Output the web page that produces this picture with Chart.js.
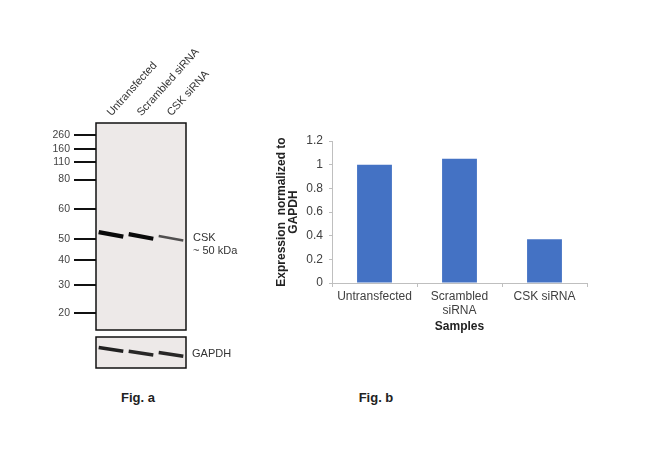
<!DOCTYPE html>
<html>
<head>
<meta charset="utf-8">
<script src="https://cdn.jsdelivr.net/npm/chart.js@4.4.1/dist/chart.umd.min.js"></script>
<style>
    body { margin: 0; background: #fff; width: 650px; height: 454px; position: relative; overflow: hidden; font-family: "Liberation Sans", Arial, sans-serif; }
    .box { position: absolute; }
    .lbl { position: absolute; font-size: 11px; line-height: 11px; color: #333; white-space: nowrap; }
    .fig { position: absolute; font-size: 13px; line-height: 13px; font-weight: bold; color: #222; width: 80px; text-align: center; }
</style>
</head>
<body>

<div class="box" style="left:30px; top:40px; width:200px; height:292px;"><canvas id="blotChart"></canvas></div>
<div class="box" style="left:30px; top:332px; width:200px; height:40px;"><canvas id="gapdhChart"></canvas></div>
<div class="box" style="left:270px; top:125px; width:330px; height:225px;"><canvas id="barChart"></canvas></div>

<div class="lbl" style="left:193px; top:232px;">CSK</div>
<div class="lbl" style="left:193px; top:245px;">~ 50 kDa</div>
<div class="lbl" style="left:192px; top:348px;">GAPDH</div>
<div class="fig" style="left:98px; top:391px;">Fig. a</div>
<div class="fig" style="left:336px; top:391px;">Fig. b</div>

<script>
// Fig. b values
var sampleLabels = ['Untransfected', ['Scrambled', 'siRNA'], 'CSK siRNA'];
var expressionValues = [1.0, 1.05, 0.37];

// Fig. a blot: lanes, marker ladder (kDa + relative mobility), bands
var laneNames = ['Untransfected', 'Scrambled siRNA', 'CSK siRNA'];
var laneCenters = [0.5, 1.5, 2.5];
var markerKDa = [260, 160, 110, 80, 60, 50, 40, 30, 20];
var markerMobility = [0.057, 0.126, 0.189, 0.273, 0.416, 0.560, 0.661, 0.782, 0.916];
var cskMobility = [0.538, 0.548, 0.557];
var cskIntensity = [1.0, 0.95, 0.4];
var gapdhMobility = [0.40, 0.52, 0.56];
var gapdhIntensity = [0.75, 0.7, 0.7];

var FONT = '"Liberation Sans", Arial, sans-serif';
Chart.defaults.font.family = FONT;
Chart.defaults.animation = false;

// membrane background + frame
var membrane = {
    id: 'membrane',
    beforeDatasetsDraw: function (chart) {
        var a = chart.chartArea, ctx = chart.ctx;
        ctx.save();
        ctx.fillStyle = '#ede9e8';
        ctx.fillRect(a.left, a.top, a.right - a.left, a.bottom - a.top);
        ctx.restore();
    },
    afterDraw: function (chart) {
        var a = chart.chartArea, ctx = chart.ctx;
        ctx.save();
        ctx.strokeStyle = '#111';
        ctx.lineWidth = 1.5;
        ctx.strokeRect(a.left, a.top, a.right - a.left, a.bottom - a.top);
        ctx.restore();
    }
};

function bandSets(mob, inten, tilt) {
    return mob.map(function (m, i) {
        var k = inten[i];
        return {
            data: [{x: laneCenters[i] - 0.41, y: m - tilt}, {x: laneCenters[i] + 0.41, y: m + tilt}],
            borderColor: 'rgba(10,10,10,' + Math.min(1, 0.45 + 0.6 * k) + ')',
            borderWidth: 1.2 + 3.2 * k,
            pointRadius: 0,
            tension: 0
        };
    });
}

var ctxBlot = document.getElementById('blotChart').getContext('2d');
var blotChart = new Chart(ctxBlot, {
    type: 'line',
    data: { datasets: bandSets(cskMobility, cskIntensity, 0.011) },
    options: {
        responsive: true,
        maintainAspectRatio: false,
        layout: { padding: { right: 44, bottom: 2 } },
        plugins: { legend: { display: false }, tooltip: { enabled: false } },
        scales: {
            x: {
                type: 'linear',
                position: 'top',
                min: 0,
                max: 3,
                afterBuildTicks: function (s) { s.ticks = laneCenters.map(function (v) { return {value: v}; }); },
                afterFit: function (s) { s.height = 83; s.paddingLeft = 0; s.paddingRight = 0; },
                grid: { display: false, drawTicks: false },
                border: { display: false },
                ticks: {
                    minRotation: 48,
                    maxRotation: 48,
                    padding: 4,
                    labelOffset: 8,
                    color: '#333',
                    font: { size: 11 },
                    callback: function (v, i) { return laneNames[i]; }
                }
            },
            y: {
                type: 'linear',
                reverse: true,
                min: 0,
                max: 1,
                afterBuildTicks: function (s) { s.ticks = markerMobility.map(function (v) { return {value: v}; }); },
                afterFit: function (s) { s.width = 66; s.paddingTop = 0; s.paddingBottom = 0; },
                grid: { drawOnChartArea: false, tickLength: 22, lineWidth: 2, color: '#111' },
                border: { display: false },
                ticks: {
                    padding: 4,
                    color: '#444',
                    font: { size: 10.5 },
                    callback: function (v, i) { return String(markerKDa[i]); }
                }
            }
        }
    },
    plugins: [membrane]
});

var ctxGapdh = document.getElementById('gapdhChart').getContext('2d');
var gapdhChart = new Chart(ctxGapdh, {
    type: 'line',
    data: { datasets: bandSets(gapdhMobility, gapdhIntensity, 0.06) },
    options: {
        responsive: true,
        maintainAspectRatio: false,
        layout: { padding: { left: 66, right: 44, top: 5, bottom: 4 } },
        plugins: { legend: { display: false }, tooltip: { enabled: false } },
        scales: {
            x: { type: 'linear', min: 0, max: 3, display: false },
            y: { type: 'linear', reverse: true, min: 0, max: 1, display: false }
        }
    },
    plugins: [membrane]
});

var ctxBar = document.getElementById('barChart').getContext('2d');
var barChart = new Chart(ctxBar, {
    type: 'bar',
    data: {
        labels: sampleLabels,
        datasets: [{
            label: 'Expression',
            data: expressionValues,
            backgroundColor: '#4472c4',
            borderWidth: 0,
            categoryPercentage: 1,
            barPercentage: 0.41
        }]
    },
    options: {
        responsive: true,
        maintainAspectRatio: false,
        layout: { padding: { top: 16, right: 13, bottom: 12 } },
        plugins: { legend: { display: false }, tooltip: { enabled: false } },
        scales: {
            x: {
                afterFit: function (s) { s.height = 55; s.paddingLeft = 0; s.paddingRight = 0; },
                grid: { drawOnChartArea: false, tickLength: 4, color: '#bfbfbf' },
                border: { color: '#bfbfbf' },
                ticks: { padding: 2, color: '#404040', font: { size: 12, lineHeight: 1.2 }, maxRotation: 0 },
                title: {
                    display: true,
                    text: 'Samples',
                    color: '#222',
                    font: { size: 12, weight: 'bold', lineHeight: 1 },
                    padding: { top: 0, bottom: 5 }
                }
            },
            y: {
                min: 0,
                max: 1.2,
                afterFit: function (s) { s.width = 62; s.paddingTop = 0; s.paddingBottom = 0; },
                grid: { drawOnChartArea: false, tickLength: 3, color: '#bfbfbf' },
                border: { color: '#bfbfbf' },
                ticks: {
                    stepSize: 0.2,
                    padding: 6,
                    color: '#404040',
                    font: { size: 12 },
                    callback: function (v) { return String(Number(v.toFixed(1))); }
                },
                title: {
                    display: true,
                    text: ['Expression  normalized to', 'GAPDH'],
                    color: '#222',
                    font: { size: 12, weight: 'bold', lineHeight: 1 },
                    padding: { top: 6, bottom: 0 }
                }
            }
        }
    }
});
</script>
</body>
</html>
